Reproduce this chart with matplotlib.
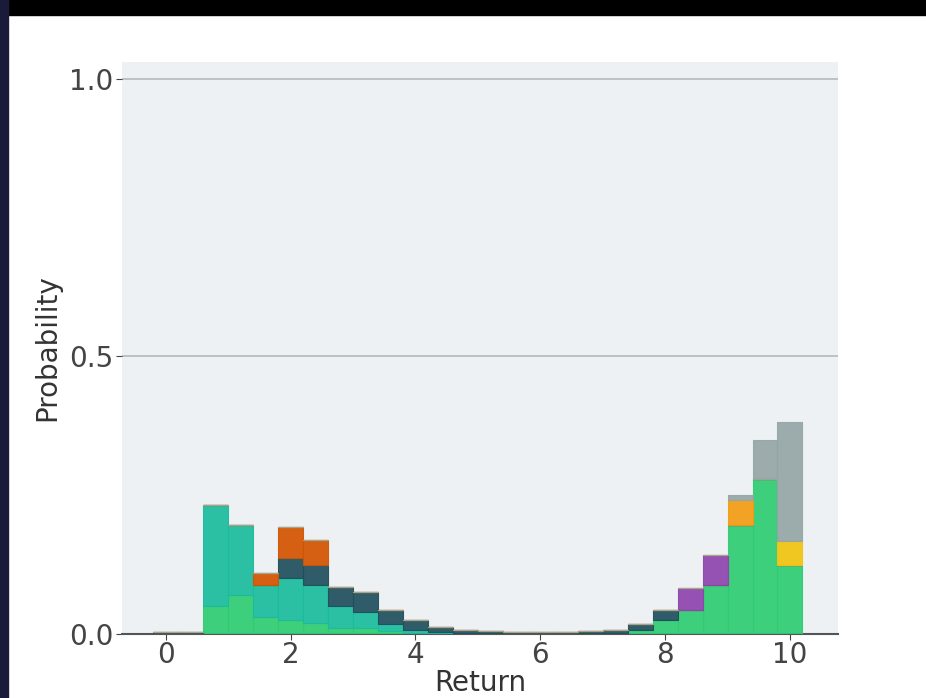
import matplotlib
matplotlib.use("Agg")
import matplotlib.pyplot as plt
import numpy as np

# histogram bins: 26 bins of width 0.4 from -0.2 to 10.2
bin_left = np.arange(26) * 0.4 - 0.2
bin_width = 0.4

# stacked layers (bottom -> top), probability per bin
green  = [0, 0, 0.05, 0.07, 0.03, 0.025, 0.02, 0.01, 0.01, 0.005, 0, 0, 0, 0, 0, 0, 0, 0, 0, 0.008,
          0.025, 0.043, 0.088, 0.196, 0.28, 0.124]
teal   = [0, 0, 0.182, 0.126, 0.058, 0.075, 0.068, 0.04, 0.03, 0.013, 0.008, 0.004, 0, 0, 0, 0, 0, 0, 0, 0,
          0, 0, 0, 0, 0, 0]
navy   = [0.003, 0.003, 0, 0, 0, 0.037, 0.036, 0.035, 0.036, 0.025, 0.017, 0.008, 0.007, 0.005, 0.004,
          0.003, 0.004, 0.005, 0.008, 0.010, 0.018, 0, 0, 0, 0, 0]
orange = [0, 0, 0, 0, 0.022, 0.055, 0.045, 0, 0, 0, 0, 0, 0, 0, 0, 0, 0, 0, 0, 0, 0, 0, 0, 0, 0, 0]
purple = [0, 0, 0, 0, 0, 0, 0, 0, 0, 0, 0, 0, 0, 0, 0, 0, 0, 0, 0, 0, 0, 0.04, 0.054, 0, 0, 0]
amber  = [0, 0, 0, 0, 0, 0, 0, 0, 0, 0, 0, 0, 0, 0, 0, 0, 0, 0, 0, 0, 0, 0, 0, 0.045, 0, 0]
yellow = [0, 0, 0, 0, 0, 0, 0, 0, 0, 0, 0, 0, 0, 0, 0, 0, 0, 0, 0, 0, 0, 0, 0, 0, 0, 0.044]
gray   = [0, 0, 0, 0, 0, 0, 0, 0, 0, 0, 0, 0, 0, 0, 0, 0, 0, 0, 0, 0, 0, 0, 0, 0.009, 0.069, 0.213]

layers = [green, teal, navy, orange, purple, amber, yellow, gray]
colors = ["#2ecc71", "#1abc9c", "#1f4f5c", "#d35400", "#8e44ad", "#f39c12", "#f1c40f", "#95a5a6"]

fig = plt.figure(figsize=(9.26, 6.98), dpi=100, facecolor="white")
# screenshot borders
fig.patches.append(plt.Rectangle((0, 0.978), 1, 0.022, transform=fig.transFigure,
                                 color="black", zorder=-1))
fig.patches.append(plt.Rectangle((0, 0), 0.009, 1, transform=fig.transFigure,
                                 color="#1a1a3a", zorder=-1))

ax = fig.add_axes([0.1318, 0.0917, 0.7732, 0.8193])
ax.set_facecolor("#edf1f4")

bottom = np.zeros(len(bin_left))
for vals, c in zip(layers, colors):
    vals = np.array(vals)
    ax.bar(bin_left, vals, width=bin_width, bottom=bottom, align="edge",
           color=c, alpha=0.92, edgecolor=c, linewidth=0.8, zorder=3)
    bottom += vals

ax.set_xlim(-0.7, 10.77)
ax.set_ylim(0, 1.03)
ax.set_xticks([0, 2, 4, 6, 8, 10])
ax.set_yticks([0.0, 0.5, 1.0])
ax.set_yticklabels(["0.0", "0.5", "1.0"])
ax.yaxis.grid(True, color="#b8b8b8", linewidth=1.2, zorder=1)
for s in ["top", "right", "left"]:
    ax.spines[s].set_visible(False)
ax.spines["bottom"].set_color("#555555")
ax.spines["bottom"].set_linewidth(1.5)
ax.tick_params(axis="both", labelsize=20, colors="#444444", length=4)
ax.tick_params(axis="x", pad=1)
ax.tick_params(axis="y", pad=2)
ax.set_xlabel("Return", fontsize=20, color="#333333", labelpad=0)
ax.set_ylabel("Probability", fontsize=20, color="#333333", labelpad=6)

fig.savefig("out.png", dpi=100, facecolor=fig.get_facecolor())
